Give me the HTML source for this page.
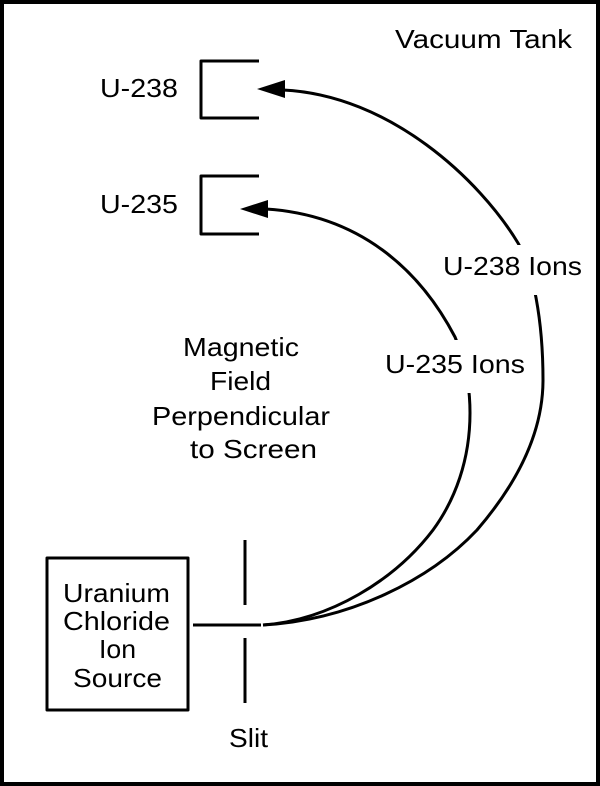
<!DOCTYPE html>
<html><head><style>
body{margin:0;background:#fff}
svg{display:block}
text{font-family:"Liberation Sans",Arial,sans-serif;font-size:26px;fill:#000}
</style></head><body>
<svg width="600" height="786" viewBox="0 0 600 786">
<rect x="2" y="2" width="596" height="782" fill="#fff" stroke="#000" stroke-width="4"/>
<text x="395" y="48" textLength="177" lengthAdjust="spacingAndGlyphs">Vacuum Tank</text>
<text x="100" y="97" textLength="78" lengthAdjust="spacingAndGlyphs">U-238</text>
<text x="100" y="213" textLength="78" lengthAdjust="spacingAndGlyphs">U-235</text>
<g fill="none" stroke="#000" stroke-width="3" stroke-linejoin="round">
<path d="M259 61 H201 V118 H259"/>
<path d="M259 176 H201 V234 H259"/>
<path d="M283 90 C390 95 480 180 518 243 C533 268 543 320 543 380 C543 430 520 480 477 530 C430 580 350 620 263 625"/>
<path d="M266 209 C360 215 420 270 455 337 C465 360 470 385 470 413 C470 460 455 500 433 530 C395 580 330 620 263 625"/>
<rect x="47" y="558" width="141" height="152"/>
<path d="M193 625 H261"/>
<path d="M245 540 V605 M245 638 V703"/>
</g>
<polygon points="257,89 285,80 285,98" fill="#000"/>
<polygon points="240,209 268,200 268,218" fill="#000"/>
<rect x="441" y="245" width="145" height="50" fill="#fff"/>
<text x="443" y="275" textLength="139" lengthAdjust="spacingAndGlyphs">U-238 Ions</text>
<rect x="383" y="340" width="145" height="53" fill="#fff"/>
<text x="385" y="373" textLength="140" lengthAdjust="spacingAndGlyphs">U-235 Ions</text>
<text x="183" y="356" textLength="116" lengthAdjust="spacingAndGlyphs">Magnetic</text>
<text x="210" y="390" textLength="61" lengthAdjust="spacingAndGlyphs">Field</text>
<text x="152" y="425" textLength="178" lengthAdjust="spacingAndGlyphs">Perpendicular</text>
<text x="190" y="458" textLength="127" lengthAdjust="spacingAndGlyphs">to Screen</text>
<text x="63" y="602" textLength="107" lengthAdjust="spacingAndGlyphs">Uranium</text>
<text x="63" y="630" textLength="107" lengthAdjust="spacingAndGlyphs">Chloride</text>
<text x="99" y="658" textLength="37" lengthAdjust="spacingAndGlyphs">Ion</text>
<text x="73" y="687" textLength="89" lengthAdjust="spacingAndGlyphs">Source</text>
<text x="229" y="747" textLength="39" lengthAdjust="spacingAndGlyphs">Slit</text>
</svg>
</body></html>
